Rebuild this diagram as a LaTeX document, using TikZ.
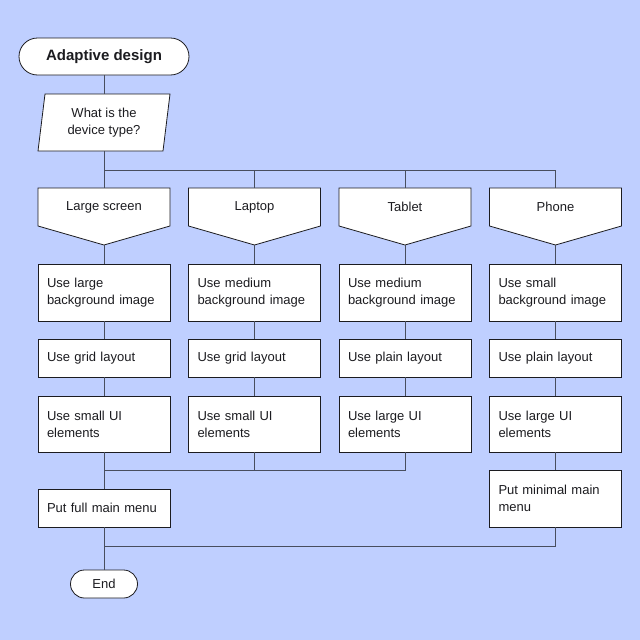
\documentclass[tikz,border=0pt]{standalone}
\usepackage{fontspec}
\setmainfont{Liberation Sans}
\definecolor{bg}{RGB}{191,207,255}
\definecolor{wire}{RGB}{72,78,94}
\definecolor{ink}{RGB}{28,28,32}

\begin{document}
\begin{tikzpicture}[x=1pt,y=-1pt,
	every node/.style={text=ink, font=\fontsize{13}{17}\selectfont},
	link/.style={draw=wire, line width=0.8pt},
	outline/.style={draw=ink, fill=white, line width=0.8pt},
	stepbox/.style={outline, text width=114pt, inner xsep=9pt, inner ysep=0pt, align=left},
	label/.style={minimum width=132pt, minimum height=38pt, inner sep=0pt},
	term/.style={outline, inner sep=0pt}]
				\path[use as bounding box, fill=bg] (0,0) rectangle (640,640);
				% shapes drawn first, texts go on top
				\filldraw[outline] (45,94) -- (170,94) -- (163,151) -- (38,151) -- cycle;
				\foreach \x in {104,254.5,405,555.5}
					\filldraw[outline] (\x-66,188) -- (\x+66,188) -- (\x+66,226) -- (\x,245) -- (\x-66,226) -- cycle;
				\node[term, minimum width=170pt, minimum height=37pt, rounded corners=18.5pt, font=\fontsize{15}{18}\selectfont\bfseries] (start) at (104,56.5) {Adaptive design};
				\node[minimum width=118pt, minimum height=57pt, inner sep=0pt, align=center] (ask) at (104,122.5) {What is the\\device type?};
				\node[label] (a0) at (104,207) {Large screen};
				\node[label] (b0) at (254.5,207) {Laptop};
				\node[label] (c0) at (405,207) {Tablet};
				\node[label] (d0) at (555.5,207) {Phone};
				\coordinate (a0 tip) at (104,245);
				\coordinate (b0 tip) at (254.5,245);
				\coordinate (c0 tip) at (405,245);
				\coordinate (d0 tip) at (555.5,245);
				\node[stepbox, minimum height=57pt] (a1) at (104,292.5) {Use large\\background image};
				\node[stepbox, minimum height=57pt] (b1) at (254.5,292.5) {Use medium\\background image};
				\node[stepbox, minimum height=57pt] (c1) at (405,292.5) {Use medium\\background image};
				\node[stepbox, minimum height=57pt] (d1) at (555.5,292.5) {Use small\\background image};
				\node[stepbox, minimum height=38pt] (a2) at (104,358) {Use grid layout};
				\node[stepbox, minimum height=38pt] (b2) at (254.5,358) {Use grid layout};
				\node[stepbox, minimum height=38pt] (c2) at (405,358) {Use plain layout};
				\node[stepbox, minimum height=38pt] (d2) at (555.5,358) {Use plain layout};
				\node[stepbox, minimum height=56pt] (a3) at (104,424) {Use small UI\\elements};
				\node[stepbox, minimum height=56pt] (b3) at (254.5,424) {Use small UI\\elements};
				\node[stepbox, minimum height=56pt] (c3) at (405,424) {Use large UI\\elements};
				\node[stepbox, minimum height=56pt] (d3) at (555.5,424) {Use large UI\\elements};
				\node[stepbox, minimum height=38pt] (full) at (104,508) {Put full main menu};
				\node[stepbox, minimum height=57pt] (minimal) at (555.5,498.5) {Put minimal main\\menu};
				\node[term, minimum width=67pt, minimum height=28pt, rounded corners=14pt] (end) at (104,584) {End};
				\coordinate (split) at (104,170);
				\coordinate (merge) at (104,470);
				\coordinate (merge2) at (104,546);
				% connectors
				\draw[link] (start) -- (ask);
				\draw[link] (ask) -- (a0);
				\draw[link] (split) -| (b0);
				\draw[link] (split) -| (c0);
				\draw[link] (split) -| (d0);
				\draw[link] (a0 tip) -- (a1);
				\draw[link] (b0 tip) -- (b1);
				\draw[link] (c0 tip) -- (c1);
				\draw[link] (d0 tip) -- (d1);
				\draw[link] (a1) -- (a2);
				\draw[link] (b1) -- (b2);
				\draw[link] (c1) -- (c2);
				\draw[link] (d1) -- (d2);
				\draw[link] (a2) -- (a3);
				\draw[link] (b2) -- (b3);
				\draw[link] (c2) -- (c3);
				\draw[link] (d2) -- (d3);
				\draw[link] (a3) -- (full);
				\draw[link] (b3) |- (merge);
				\draw[link] (c3) |- (merge);
				\draw[link] (d3) -- (minimal);
				\draw[link] (full) -- (end);
				\draw[link] (minimal) |- (merge2);
			\end{tikzpicture}
\end{document}
